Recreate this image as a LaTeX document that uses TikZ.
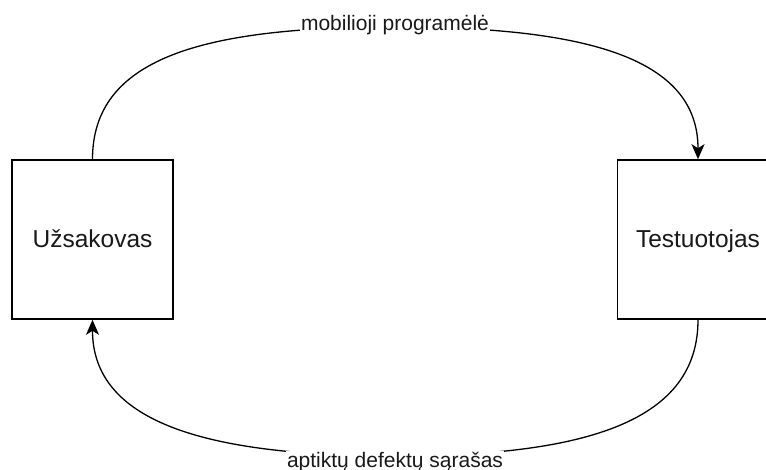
\documentclass[tikz,border=0pt]{standalone}
\usepackage{fontspec}
\setmainfont{Liberation Sans}
\usetikzlibrary{arrows.meta}
\begin{document}
\begin{tikzpicture}[x=1pt,y=-1pt,
  actor/.style={draw=black,line width=1.6pt,fill=white,minimum width=161pt,minimum height=159pt,
    inner sep=0pt,text height=18pt,text depth=1pt,font=\fontsize{24.5}{28}\selectfont,text=black!90},
  conn/.style={draw=black,line width=1.3pt,-{Stealth[length=15pt,width=13pt,inset=4pt]}},
  lbl/.style={fill=white,inner sep=1pt,anchor=base,font=\fontsize{21}{24}\selectfont,text=black!90}]
  \useasboundingbox (0,0) rectangle (766,470);
  \clip (0,0) rectangle (766,470);

  % the two parties
  \node[actor] (L) at (92.5,239.5) {Užsakovas};
  \node[actor] (R) at (698,239.5) {Testuotojas};

  % label anchor points on the two arcs
  \coordinate (topmid) at (395,27);
  \coordinate (botmid) at (395,456);

  % delivery of the app
  \draw[conn] (L.north) .. controls +(0,-100) and +(-195,0) .. (topmid)
    node[lbl,yshift=-4pt] (m) {mobilioji programėlė}
    .. controls +(195,0) and +(0,-100) .. (R.north);

  % defect report going back
  \draw[conn] (R.south) .. controls +(0,100) and +(195,0) .. (botmid)
    node[lbl,yshift=-11pt] (d) {aptiktų defektų sąrašas}
    .. controls +(-195,0) and +(0,100) .. (L.south);
\end{tikzpicture}
\end{document}
